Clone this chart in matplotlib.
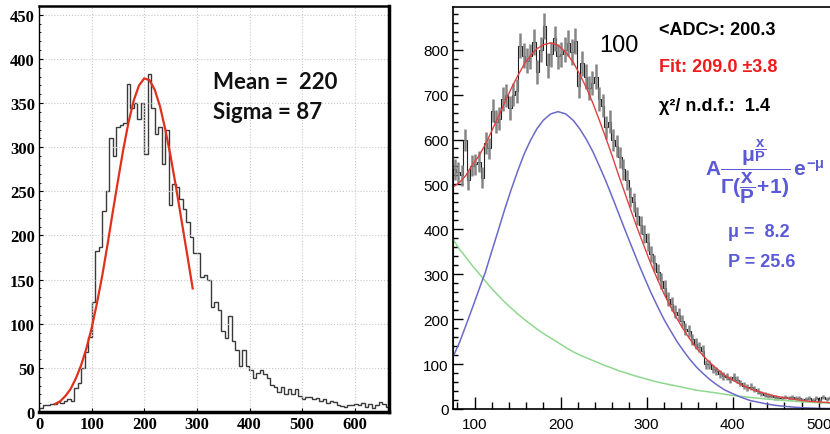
import numpy as np
import matplotlib.pyplot as plt
from matplotlib.ticker import MultipleLocator

# ---------- left panel : ADC spectrum with gaussian fit ----------
left_bin = 6.65
left_counts = [5, 8, 8, 9, 9, 11, 10, 13, 15, 13, 27, 33, 50, 68, 85, 125, 182,
               187, 228, 250, 310, 290, 323, 325, 328, 372,
               345, 350, 332, 350, 292, 383, 345, 315, 323, 281,
               320, 235, 258, 255, 241, 230, 215, 198, 180, 180,
               153, 155, 150, 119, 125, 116, 92, 84, 109, 80,
               70, 52, 70, 52, 48, 39, 44, 48, 43, 39,
               31, 28, 23, 28, 20, 26, 20, 26, 18, 15,
               17, 17, 15, 16, 13, 15, 10, 13, 11, 8,
               7, 6, 8, 8, 9, 8, 10, 6, 9, 4,
               8, 11, 9, 6]
gaus_x = [30, 40, 50, 60, 70, 80, 90, 100, 110, 120, 130, 140, 150, 160, 170,
          180, 190, 200, 210, 220, 230, 240, 250, 260, 270, 280, 292]
gaus_y = [9, 12, 18, 26, 38, 53, 72, 95, 123, 154, 189, 226, 262, 297, 328,
          353, 370, 378, 376, 365, 346, 320, 290, 256, 220, 184, 140]

# ---------- right panel : spectrum with poisson + exp fit ----------
right_start = 75
right_bin = 4
right_counts = [534, 527, 520, 600, 510, 542, 545, 550, 515, 592,
                580, 664, 640, 646, 690, 698, 670, 700, 709, 809,
                787, 775, 785, 817, 750, 800, 852, 765, 790, 825,
                785, 790, 800, 815, 795, 820, 720, 770, 740, 715,
                725, 740, 690, 675, 627, 640, 600, 585, 560, 534,
                510, 472, 460, 430, 410, 390, 372, 345, 325, 305,
                285, 270, 245, 233, 217, 210, 196, 178, 173, 155,
                145, 138, 130, 100, 100, 89, 85, 78, 74, 72,
                66, 71, 65, 58, 52, 48, 50, 45, 40, 35,
                32, 30, 29, 26, 24, 25, 27, 24, 26, 25,
                24, 21, 22, 24, 21, 24, 18, 27, 22, 25]
curve_x = [75, 82.5, 90, 97.5, 105, 112.5, 120, 127.5, 135, 142.5,
           150, 157.5, 165, 172.5, 180, 188.5, 197, 206, 215, 222.5,
           230, 237.5, 245, 252.5, 260, 267.5, 275, 282.5, 290, 297.5,
           305, 312.5, 320, 327.5, 335, 342.5, 350, 357.5, 365, 372.5,
           380, 390, 400, 410, 420, 430, 440, 450, 460, 470,
           480, 490, 500, 507, 513]
total_y = [494, 504, 520, 544, 563, 589, 619, 650, 682, 713,
           741, 767, 787, 802, 811, 815, 810, 794, 771, 744,
           715, 681, 643, 604, 563, 520, 479, 438, 398, 360,
           323, 289, 257, 229, 202, 178, 156, 136, 120, 105,
           92, 76, 64, 54, 45, 39, 33, 28.5, 25, 22,
           19, 17, 15.5, 15, 14]
poisson_y = [116, 148, 186, 225, 265, 304, 351, 397, 444, 488,
             529, 567, 598, 624, 643, 657, 662, 657, 642, 623,
             600, 573, 541, 508, 472, 435, 398, 362, 326, 292,
             259, 229, 200, 175, 151, 130, 111, 94, 80, 67,
             56, 43, 34, 26, 19, 15, 11, 8, 6, 4.3,
             3, 2.2, 1.5, 1.2, 1]
expo_y = [378, 356, 338, 319, 302, 285, 268, 253, 238, 225,
          212, 200, 189, 178, 168, 158, 148, 137, 127, 120,
          114, 108, 102, 96, 91, 85, 81, 76, 72, 68,
          64, 60, 57, 54, 51, 48, 45, 42, 40, 38,
          36, 33, 30, 28, 26, 24, 22, 20.5, 19, 17.5,
          16, 15, 14, 13.5, 13]

plt.rcParams['mathtext.fontset'] = 'custom'
plt.rcParams['mathtext.rm'] = 'Liberation Sans:bold'
plt.rcParams['mathtext.it'] = 'Liberation Sans:bold'
plt.rcParams['mathtext.bf'] = 'Liberation Sans:bold'

fig = plt.figure(figsize=(8.3, 4.35), dpi=100)

# left
ax = fig.add_axes([39/830, 22/435, 350/830, 406/435])
edges = np.arange(len(left_counts) + 1) * left_bin
ax.stairs(left_counts, edges, color='#3a3a3a', lw=1.0)
ax.plot(gaus_x, gaus_y, color='#e0301e', lw=1.6)
ax.set_xlim(0, 665)
ax.set_ylim(0, 460)
ax.set_xticks(range(0, 700, 100))
ax.set_yticks(range(0, 500, 50))
ax.yaxis.set_minor_locator(MultipleLocator(10))
ax.grid(True, ls=':', color='#c8c8c8', lw=0.8)
ax.tick_params(direction='in', length=3, width=0.8, pad=3)
ax.tick_params(which='minor', direction='in', length=1.5)
for lab in ax.get_xticklabels() + ax.get_yticklabels():
    lab.set_family('Liberation Serif')
    lab.set_weight('bold')
    lab.set_fontsize(12)
ax.spines['left'].set_linewidth(1.0)
ax.spines['top'].set_linewidth(1.8)
ax.spines['right'].set_linewidth(2.5)
ax.spines['bottom'].set_linewidth(2.5)
ax.text(330, 374, 'Mean =  220', family='Lato', weight='bold', fontsize=16,
        va='center', color='#111111')
ax.text(330, 340, 'Sigma = 87', family='Lato', weight='bold', fontsize=16,
        va='center', color='#111111')

# right
ax2 = fig.add_axes([453/830, 25/435, 377/830, 402/435])
edges2 = right_start + np.arange(len(right_counts) + 1) * right_bin
centers2 = edges2[:-1] + right_bin / 2
ax2.errorbar(centers2, right_counts, yerr=np.sqrt(right_counts), fmt='none',
             ecolor='#858585', elinewidth=1.8, capsize=0)
ax2.stairs(right_counts, edges2, color='#222222', lw=0.8)
ax2.plot(curve_x, expo_y, color='#8fd88f', lw=1.1)
ax2.plot(curve_x, poisson_y, color='#6a6ac8', lw=1.1)
ax2.plot(curve_x, total_y, color='#e04040', lw=1.0)
ax2.set_xlim(75, 513)
ax2.set_ylim(0, 895)
ax2.xaxis.set_major_locator(MultipleLocator(100))
ax2.xaxis.set_minor_locator(MultipleLocator(20))
ax2.yaxis.set_major_locator(MultipleLocator(100))
ax2.yaxis.set_minor_locator(MultipleLocator(20))
ax2.set_yticks(range(0, 900, 100))
ax2.tick_params(axis='x', which='major', direction='in', length=9, width=1, pad=6)
ax2.tick_params(axis='x', which='minor', direction='in', length=5, width=1)
ax2.tick_params(axis='y', which='major', direction='in', length=7, width=1, pad=3)
ax2.tick_params(axis='y', which='minor', direction='in', length=3.5, width=1)
for lab in ax2.get_xticklabels() + ax2.get_yticklabels():
    lab.set_family('Liberation Sans')
    lab.set_fontsize(11)
ax2.spines['right'].set_visible(False)
for s in ['left', 'top', 'bottom']:
    ax2.spines[s].set_linewidth(1.2)

ax2.text(0.44, 0.906, '100', transform=ax2.transAxes, family='Liberation Sans',
         fontsize=17, ha='center', va='center')
ax2.text(0.546, 0.944, '<ADC>: 200.3', transform=ax2.transAxes,
         family='Liberation Sans', weight='bold', fontsize=13, va='center')
ax2.text(0.546, 0.853, 'Fit: 209.0 \u00b13.8', transform=ax2.transAxes,
         family='Liberation Sans', weight='bold', fontsize=13, va='center',
         color='#ee1c1c')
ax2.text(0.546, 0.754, '\u03c7\u00b2/ n.d.f.:  1.4', transform=ax2.transAxes,
         family='Liberation Sans', weight='bold', fontsize=13, va='center')
ax2.text(0.828, 0.592,
         r'$A\dfrac{\mu^{\dfrac{x}{P}}}{\Gamma(\dfrac{x}{P}\!+\!1)}\,e^{-\mu}$',
         transform=ax2.transAxes, fontsize=15, ha='center', va='center',
         color='#5a5ad8')
ax2.text(0.729, 0.442, '\u03bc =  8.2', transform=ax2.transAxes,
         family='Liberation Sans', weight='bold', fontsize=13, va='center',
         color='#5a5ad8')
ax2.text(0.729, 0.368, 'P = 25.6', transform=ax2.transAxes,
         family='Liberation Sans', weight='bold', fontsize=13, va='center',
         color='#5a5ad8')

fig.savefig('out.png', dpi=100)
